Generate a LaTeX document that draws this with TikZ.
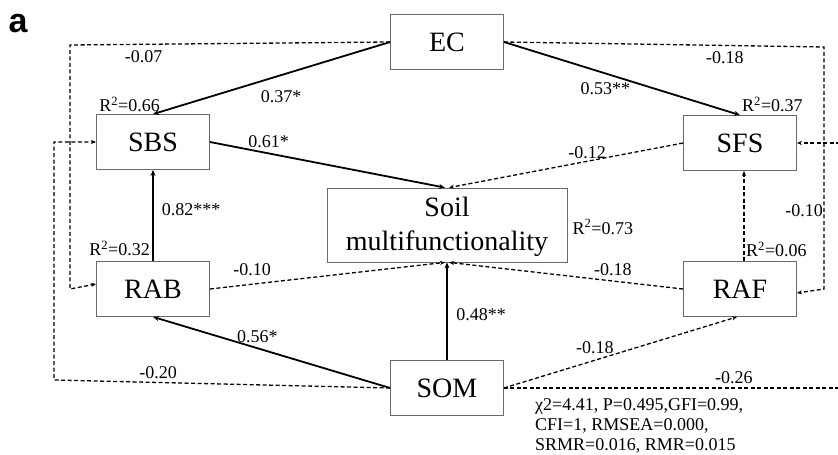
\documentclass[tikz,border=0pt]{standalone}
\usepackage{fontspec}
\setmainfont{Liberation Serif}
\newfontfamily\panelfont{Liberation Sans}
\usepackage{tikz}
\usetikzlibrary{arrows.meta, positioning, calc}
\definecolor{boxline}{HTML}{6A6A6A}

\begin{document}
\begin{tikzpicture}[x=1pt, y=-1pt,
    >={Stealth[length=6pt, width=5pt]},
    var/.style={draw=boxline, line width=0.8pt, minimum width=113pt, minimum height=55pt, inner sep=0pt, font=\fontsize{28}{34}\selectfont},
    sig/.style={->, line width=1.8pt},
    ns/.style={-{Stealth[length=5pt, width=4pt]}, line width=1.3pt, dash pattern=on 4pt off 2.5pt},
    lab/.style={font=\fontsize{18}{20}\selectfont, inner sep=0pt}]
  \useasboundingbox (0,0) rectangle (838,455);
  \clip (0,0) rectangle (838,455);
  \node[font=\panelfont\bfseries\fontsize{34}{34}\selectfont, inner sep=0pt] (panel) at (18,24) {a};
  % variables
  \node[var] (ec) at (447,42) {EC};
  \node[var] (sbs) at (153,142) {SBS};
  \node[var] (sfs) at (740,143) {SFS};
  \node[var, minimum width=240pt, minimum height=74pt, align=center, text depth=2pt] (smf) at (447,225) {Soil\\multifunctionality};
  \node[var] (rab) at (153,289) {RAB};
  \node[var] (raf) at (740,289) {RAF};
  \node[var] (som) at (447,388) {SOM};
  % explained variance
  \node[lab, anchor=south east] (r2sbs) at ([xshift=7pt, yshift=2pt]sbs.north) {R\textsuperscript{2}=0.66};
  \node[lab, anchor=south west] (r2sfs) at ([xshift=2pt, yshift=3pt]sfs.north) {R\textsuperscript{2}=0.37};
  \node[lab, anchor=base west] (r2smf) at ([xshift=5pt, yshift=-9pt]smf.east) {R\textsuperscript{2}=0.73};
  \node[lab, anchor=south east] (r2rab) at ([xshift=-3pt, yshift=5pt]rab.north) {R\textsuperscript{2}=0.32};
  \node[lab, anchor=south west] (r2raf) at ([xshift=6pt, yshift=4pt]raf.north) {R\textsuperscript{2}=0.06};
  % bends of the outer paths
  \coordinate (lout) at (70,45);
  \coordinate (lfar) at (54,380);
  \coordinate (rin) at (824,47);
  \coordinate (rfar) at (842,388);
  % paths
  \draw[sig] (ec.west) -- node[lab, pos=0.46, yshift=-21pt] {0.37*} (sbs.north);
  \draw[sig] (ec.east) -- node[lab, pos=0.43, yshift=-15pt] {0.53**} (sfs.north);
  \draw[sig] (sbs.east) -- node[lab, pos=0.25, yshift=12pt] {0.61*} ([xshift=-2pt]smf.north);
  \draw[ns] (sfs.west) -- node[lab, pos=0.41, yshift=9pt] {-0.12} ([xshift=2pt]smf.north);
  \draw[sig] (rab.north) -- node[lab, pos=0.56, xshift=38pt] {0.82***} (sbs.south);
  \draw[ns] ([xshift=4pt]raf.north) -- node[lab, pos=0.56, xshift=60pt] {-0.10} ([xshift=4pt]sfs.south);
  \draw[ns] (rab.east) -- node[lab, pos=0.18, yshift=15pt] {-0.10} ([xshift=-2pt]smf.south);
  \draw[ns] (raf.west) -- node[lab, pos=0.3, yshift=11pt] {-0.18} ([xshift=2pt]smf.south);
  \draw[sig] (som.north) -- node[lab, pos=0.47, xshift=34pt] {0.48**} (smf.south);
  \draw[sig] (som.west) -- node[lab, pos=0.56, yshift=12pt] {0.56*} (rab.south);
  \draw[ns] (som.east) -- node[lab, pos=0.39, yshift=13pt] {-0.18} ([xshift=-3pt]raf.south);
  \draw[ns] (ec.west) -- node[lab, pos=0.77, yshift=-12pt] {-0.07} (lout) -- (lout |- rab.west) -- ([yshift=5pt]rab.west);
  \draw[ns] (ec.east) -- node[lab, pos=0.69, yshift=-12pt] {-0.18} (rin) -- (rin |- raf.east) -- ([yshift=-4pt]raf.east);
  \draw[ns] (som.west) -- node[lab, pos=0.69, yshift=10pt] {-0.20} (lfar) -- (lfar |- sbs.west) -- (sbs.west);
  \draw[ns] (som.east) -- node[lab, pos=0.68, yshift=10pt] {-0.26} (rfar) -- (rfar |- sfs.east) -- (sfs.east);
  % model fit
  \node[lab, align=left, anchor=west] (fitidx) at (535,426) {χ2=4.41, P=0.495,GFI=0.99,\\CFI=1, RMSEA=0.000,\\SRMR=0.016, RMR=0.015};
\end{tikzpicture}
\end{document}
